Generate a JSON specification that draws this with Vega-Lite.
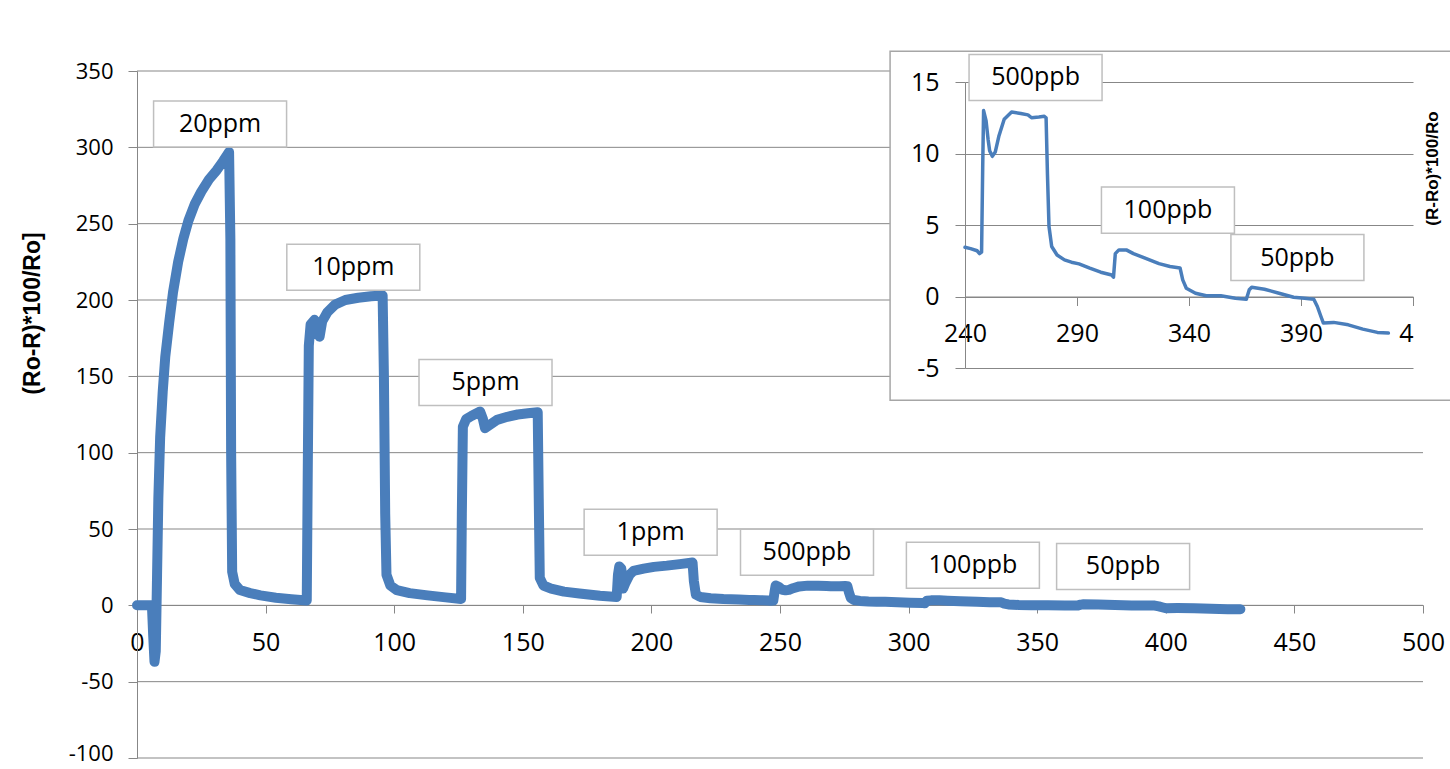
{
  "$schema": "https://vega.github.io/schema/vega-lite/v6.json",
  "width": 1286,
  "height": 687,
  "autosize": "none",
  "padding": {"left": 137, "top": 71, "right": 27, "bottom": 11},
  "background": "white",
  "config": {"view": {"stroke": null}, "axis": {"domainWidth": 1, "tickWidth": 1}},
  "datasets": {
    "series": [
      {"t": 0, "v": 0}, {"t": 3, "v": 0}, {"t": 5.8, "v": 0}, {"t": 6.3, "v": -20}, {"t": 6.8, "v": -37},
      {"t": 7.3, "v": -30}, {"t": 7.8, "v": 20}, {"t": 8.3, "v": 70}, {"t": 9, "v": 110}, {"t": 10, "v": 140},
      {"t": 11, "v": 163}, {"t": 12.5, "v": 185}, {"t": 14, "v": 205}, {"t": 16, "v": 225}, {"t": 18, "v": 240},
      {"t": 20, "v": 252}, {"t": 22.5, "v": 263}, {"t": 25, "v": 271}, {"t": 28, "v": 279}, {"t": 31, "v": 285},
      {"t": 33.5, "v": 291}, {"t": 35.8, "v": 297}, {"t": 36.3, "v": 240}, {"t": 36.6, "v": 100}, {"t": 37, "v": 22},
      {"t": 38, "v": 14}, {"t": 40, "v": 10}, {"t": 44, "v": 8}, {"t": 48, "v": 6.5}, {"t": 54, "v": 5},
      {"t": 60, "v": 4}, {"t": 66, "v": 3.2}, {"t": 66.4, "v": 90}, {"t": 66.8, "v": 170}, {"t": 67.5, "v": 184},
      {"t": 69, "v": 187}, {"t": 70.2, "v": 178}, {"t": 71, "v": 176}, {"t": 72, "v": 186}, {"t": 74, "v": 192},
      {"t": 77, "v": 197}, {"t": 81, "v": 200}, {"t": 86, "v": 201.5}, {"t": 91, "v": 202.5}, {"t": 95.5, "v": 203},
      {"t": 96, "v": 150}, {"t": 96.5, "v": 60}, {"t": 97, "v": 20}, {"t": 98.5, "v": 13}, {"t": 101, "v": 10},
      {"t": 106, "v": 8}, {"t": 113, "v": 6.5}, {"t": 120, "v": 5.2}, {"t": 126, "v": 4.2}, {"t": 126.3, "v": 60},
      {"t": 126.7, "v": 117}, {"t": 128, "v": 122}, {"t": 130, "v": 124}, {"t": 133.4, "v": 127}, {"t": 134.5, "v": 122},
      {"t": 135.3, "v": 116}, {"t": 137, "v": 118}, {"t": 140, "v": 121.5}, {"t": 144, "v": 123.5}, {"t": 148, "v": 125},
      {"t": 152, "v": 125.8}, {"t": 155.8, "v": 126.5}, {"t": 156.2, "v": 70}, {"t": 156.6, "v": 18}, {"t": 158, "v": 13},
      {"t": 161, "v": 11}, {"t": 166, "v": 9}, {"t": 172, "v": 7.8}, {"t": 180, "v": 6.3}, {"t": 186.5, "v": 5.5},
      {"t": 187, "v": 20}, {"t": 187.5, "v": 25.5}, {"t": 188.3, "v": 24}, {"t": 189, "v": 11}, {"t": 190, "v": 15},
      {"t": 191.5, "v": 20}, {"t": 193, "v": 22.5}, {"t": 197, "v": 24}, {"t": 201, "v": 25.2}, {"t": 206, "v": 26},
      {"t": 211, "v": 27}, {"t": 216, "v": 28}, {"t": 216.5, "v": 16}, {"t": 217.3, "v": 7}, {"t": 219, "v": 5.5},
      {"t": 223, "v": 4.6}, {"t": 228, "v": 4.1}, {"t": 234, "v": 3.8}, {"t": 238, "v": 3.5},
      {"t": 240, "v": 3.44}, {"t": 242.5, "v": 3.35}, {"t": 245.4, "v": 3.2}, {"t": 246.5, "v": 3.0}, {"t": 247.4, "v": 3.1},
      {"t": 247.9, "v": 9}, {"t": 248.3, "v": 13.0}, {"t": 249.4, "v": 12.3}, {"t": 250.3, "v": 11}, {"t": 251, "v": 10.2},
      {"t": 252.2, "v": 9.8}, {"t": 253.5, "v": 10.1}, {"t": 255.1, "v": 11.2}, {"t": 257.5, "v": 12.4}, {"t": 260.8, "v": 12.9},
      {"t": 264.9, "v": 12.8}, {"t": 268.1, "v": 12.7}, {"t": 269.7, "v": 12.5}, {"t": 273, "v": 12.55}, {"t": 275.4, "v": 12.6},
      {"t": 276.2, "v": 12.5}, {"t": 276.8, "v": 8.6}, {"t": 277.5, "v": 4.9}, {"t": 278.7, "v": 3.5}, {"t": 281.1, "v": 2.9},
      {"t": 284.4, "v": 2.56}, {"t": 287.5, "v": 2.4}, {"t": 290.9, "v": 2.28}, {"t": 295.7, "v": 1.98}, {"t": 300.6, "v": 1.7},
      {"t": 305.5, "v": 1.5}, {"t": 306.3, "v": 1.35}, {"t": 307.1, "v": 3.0}, {"t": 308.7, "v": 3.26}, {"t": 312, "v": 3.26},
      {"t": 315.2, "v": 3.0}, {"t": 320.1, "v": 2.7}, {"t": 326.6, "v": 2.3}, {"t": 331.5, "v": 2.1}, {"t": 336, "v": 2.0},
      {"t": 337.2, "v": 1.16}, {"t": 338.8, "v": 0.58}, {"t": 342.9, "v": 0.23}, {"t": 347.7, "v": 0.05}, {"t": 354.2, "v": 0.05},
      {"t": 360.7, "v": -0.12}, {"t": 365.6, "v": -0.19}, {"t": 366.9, "v": 0.47}, {"t": 368, "v": 0.65}, {"t": 373.7, "v": 0.51},
      {"t": 380.2, "v": 0.23}, {"t": 386.7, "v": -0.05}, {"t": 391.6, "v": -0.12}, {"t": 395.7, "v": -0.19}, {"t": 397.3, "v": -0.7},
      {"t": 398.9, "v": -1.4}, {"t": 400, "v": -1.86}, {"t": 404.6, "v": -1.81}, {"t": 411.1, "v": -1.98}, {"t": 417.6, "v": -2.28},
      {"t": 424.1, "v": -2.51}, {"t": 429, "v": -2.56}
    ],
    "labels": [
      {"t": 32.3, "v": 315.3, "lab": "20ppm"},
      {"t": 84.1, "v": 221.4, "lab": "10ppm"},
      {"t": 135.5, "v": 146.0, "lab": "5ppm"},
      {"t": 199.7, "v": 47.8, "lab": "1ppm"},
      {"t": 260.5, "v": 34.7, "lab": "500ppb"},
      {"t": 325.0, "v": 26.2, "lab": "100ppb"},
      {"t": 383.4, "v": 25.5, "lab": "50ppb"}
    ],
    "insetLabels": [
      {"t": 271.5, "v": 15.32, "lab": "500ppb"},
      {"t": 330.6, "v": 6.04, "lab": "100ppb"},
      {"t": 388.4, "v": 2.72, "lab": "50ppb"}
    ],
    "gridLevels": [
      {"v": 350}, {"v": 300}, {"v": 250}, {"v": 200}, {"v": 150},
      {"v": 100}, {"v": 50}, {"v": 0}, {"v": -50}, {"v": -100}
    ]
  },
  "layer": [
    {
      "layer": [
        {
          "data": {"name": "gridLevels"},
          "transform": [{"filter": "datum.v >= 150"}],
          "mark": {"type": "rule", "color": "#878787", "strokeWidth": 1},
          "encoding": {
            "x": {"datum": 0, "type": "quantitative"},
            "x2": {"datum": 292.8},
            "y": {"field": "v", "type": "quantitative"}
          }
        },
        {
          "data": {"name": "gridLevels"},
          "transform": [{"filter": "datum.v < 150"}],
          "mark": {"type": "rule", "color": "#878787", "strokeWidth": 1},
          "encoding": {
            "x": {"datum": 0, "type": "quantitative"},
            "x2": {"datum": 500},
            "y": {"field": "v", "type": "quantitative"}
          }
        },
        {
          "data": {"values": [{}]},
          "mark": {"type": "rect", "filled": false, "stroke": "#a6a6a6", "strokeWidth": 1.5},
          "encoding": {
            "x": {"datum": 292.8, "type": "quantitative"},
            "x2": {"datum": 515},
            "y": {"datum": 362.9, "type": "quantitative"},
            "y2": {"datum": 134.3}
          }
        },
        {
          "data": {"name": "series"},
          "mark": {"type": "line", "color": "#4a7ebb", "strokeWidth": 10, "strokeJoin": "round", "strokeCap": "round"},
          "encoding": {
            "x": {
              "field": "t", "type": "quantitative",
              "scale": {"domain": [0, 500], "nice": false, "zero": false},
              "axis": {
                "orient": "bottom", "offset": -153, "values": [0, 50, 100, 150, 200, 250, 300, 350, 400, 450, 500],
                "grid": false, "domainColor": "#878787", "tickColor": "#878787", "tickSize": 8,
                "labelFont": "Open Sans", "labelFontSize": 25, "labelColor": "#000", "labelPadding": 17,
                "labelFlush": false, "labelOverlap": false, "title": null
              }
            },
            "y": {
              "field": "v", "type": "quantitative",
              "scale": {"domain": [-100, 350], "nice": false, "zero": false},
              "axis": {
                "orient": "left", "values": [-100, -50, 0, 50, 100, 150, 200, 250, 300, 350],
                "labelExpr": "datum.value < 0 ? '-' + abs(datum.value) : '' + datum.value",
                "labelOffset": {"condition": {"test": "datum.value <= -100", "value": -5}, "value": 0},
                "grid": false, "domainColor": "#878787", "tickColor": "#878787", "tickSize": 9,
                "labelFont": "Open Sans", "labelFontSize": 22, "labelColor": "#000", "labelPadding": 15,
                "labelOverlap": false,
                "title": "(Ro-R)*100/Ro]", "titleFont": "Liberation Sans", "titleFontSize": 23,
                "titleFontWeight": "bold", "titleColor": "#000", "titleAngle": 270,
                "titleAlign": "center", "titleBaseline": "middle", "titleX": -105, "titleY": 242
              }
            }
          }
        },
        {
          "data": {"name": "labels"},
          "mark": {"type": "point", "shape": "M-1,-0.346H1V0.346H-1Z", "size": 17689, "filled": true,
                   "fill": "white", "stroke": "#bfbfbf", "strokeWidth": 1.5, "opacity": 1},
          "encoding": {
            "x": {"field": "t", "type": "quantitative"},
            "y": {"field": "v", "type": "quantitative"}
          }
        },
        {
          "data": {"name": "labels"},
          "mark": {"type": "text", "font": "Open Sans", "fontSize": 25, "color": "#000", "align": "center", "baseline": "middle"},
          "encoding": {
            "x": {"field": "t", "type": "quantitative"},
            "y": {"field": "v", "type": "quantitative"},
            "text": {"field": "lab"}
          }
        }
      ]
    },
    {
      "layer": [
        {
          "data": {"name": "series"},
          "transform": [{"filter": "datum.t >= 240"}],
          "mark": {"type": "line", "color": "#4a7ebb", "strokeWidth": 3.5, "strokeJoin": "round", "strokeCap": "round"},
          "encoding": {
            "x": {
              "field": "t", "type": "quantitative",
              "scale": {"domain": [240, 440], "range": [828, 1276], "nice": false, "zero": false},
              "axis": {
                "orient": "bottom", "offset": -461.5, "values": [240, 290, 340, 390, 440],
                "grid": false, "domainColor": "#878787", "tickColor": "#878787", "tickSize": 9,
                "labelFont": "Open Sans", "labelFontSize": 25, "labelColor": "#000", "labelPadding": 16,
                "labelFlush": false, "labelOverlap": false,
                "labelExpr": "datum.value >= 440 ? '4' : datum.label",
                "labelAlign": {"condition": {"test": "datum.value >= 440", "value": "right"}, "value": "center"},
                "title": null
              }
            },
            "y": {
              "field": "v", "type": "quantitative",
              "scale": {"domain": [-5, 15], "range": [297, 11], "nice": false, "zero": false},
              "axis": {
                "orient": "left", "offset": -828, "values": [-5, 0, 5, 10, 15],
                "labelExpr": "datum.value < 0 ? '-' + abs(datum.value) : '' + datum.value",
                "grid": true, "gridColor": "#878787", "gridWidth": 1,
                "domainColor": "#878787", "tickColor": "#878787", "tickSize": 10,
                "labelFont": "Open Sans", "labelFontSize": 25, "labelColor": "#000", "labelPadding": 16,
                "labelOverlap": false,
                "title": "(R-Ro)*100/Ro", "titleFont": "Liberation Sans", "titleFontSize": 17,
                "titleFontWeight": "bold", "titleColor": "#000", "titleAngle": 270,
                "titleAlign": "center", "titleBaseline": "middle", "titleX": 467, "titleY": 97
              }
            }
          }
        },
        {
          "data": {"name": "insetLabels"},
          "mark": {"type": "point", "shape": "M-1,-0.346H1V0.346H-1Z", "size": 17689, "filled": true,
                   "fill": "white", "stroke": "#bfbfbf", "strokeWidth": 1.5, "opacity": 1},
          "encoding": {
            "x": {"field": "t", "type": "quantitative"},
            "y": {"field": "v", "type": "quantitative"}
          }
        },
        {
          "data": {"name": "insetLabels"},
          "mark": {"type": "text", "font": "Open Sans", "fontSize": 25, "color": "#000", "align": "center", "baseline": "middle"},
          "encoding": {
            "x": {"field": "t", "type": "quantitative"},
            "y": {"field": "v", "type": "quantitative"},
            "text": {"field": "lab"}
          }
        }
      ]
    }
  ],
  "resolve": {"scale": {"x": "independent", "y": "independent"}, "axis": {"x": "independent", "y": "independent"}}
}
